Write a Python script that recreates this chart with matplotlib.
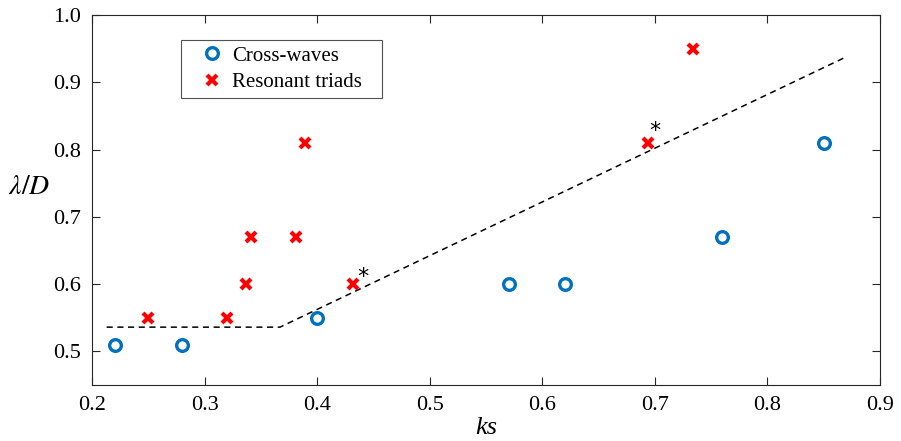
import matplotlib
matplotlib.use("Agg")
import matplotlib.pyplot as plt

plt.rcParams['font.family'] = ['Liberation Serif']
plt.rcParams['mathtext.fontset'] = 'stix'

cross_x = [0.22, 0.28, 0.40, 0.57, 0.62, 0.76, 0.85]
cross_y = [0.51, 0.51, 0.55, 0.60, 0.60, 0.67, 0.81]
triad_x = [0.25, 0.32, 0.337, 0.341, 0.381, 0.389, 0.432, 0.694, 0.734]
triad_y = [0.55, 0.55, 0.60, 0.67, 0.67, 0.81, 0.60, 0.81, 0.95]
line_x = [0.213, 0.367, 0.869]
line_y = [0.536, 0.536, 0.937]
star_x = [0.441, 0.70]
star_y = [0.61, 0.827]

fig = plt.figure(figsize=(9.01, 4.41), dpi=100)
ax = fig.add_axes([92/901, 1-385/441, (880-92)/901, (385-15)/441])

ax.plot(line_x, line_y, 'k--', lw=1.1, dashes=(4, 3))
ax.plot(cross_x, cross_y, 'o', ls='none', mfc='none', mec='#0072BD', mew=2.4, ms=8.4, label='Cross-waves')
ax.plot(triad_x, triad_y, 'x', ls='none', color='#FF0000', mew=3.0, ms=6.5, label='Resonant triads')
for sx, sy in zip(star_x, star_y):
    ax.text(sx, sy, '*', ha='center', va='center', fontsize=16, color='k', family='DejaVu Sans')

ax.set_xlim(0.2, 0.9)
ax.set_ylim(0.45, 1.0)
ax.set_xticks([0.2, 0.3, 0.4, 0.5, 0.6, 0.7, 0.8, 0.9])
ax.set_yticks([0.5, 0.6, 0.7, 0.8, 0.9, 1.0])
ax.set_xticklabels(['0.2', '0.3', '0.4', '0.5', '0.6', '0.7', '0.8', '0.9'])
ax.set_yticklabels(['0.5', '0.6', '0.7', '0.8', '0.9', '1.0'])
ax.tick_params(direction='in', length=6, width=0.8, labelsize=16, colors='#262626', labelcolor='k', top=True, right=True, pad=8)
for s in ax.spines.values():
    s.set_color('#262626')
    s.set_linewidth(0.8)

ax.set_xlabel('ks', fontsize=19, style='italic', labelpad=1)
ax.set_ylabel(r'$\lambda/D$', fontsize=20, rotation=0)
ax.yaxis.set_label_coords(-0.08, 0.5)

leg = ax.legend(loc='upper left', bbox_to_anchor=(0.113, 0.5, 0.255, 0.432), mode='expand',
                borderaxespad=0, fontsize=15, frameon=True,
                fancybox=False, edgecolor='#262626', handlelength=2.45, handletextpad=-0.3,
                borderpad=0.28, labelspacing=0.32)
leg.get_frame().set_linewidth(0.8)

fig.savefig('out.png', dpi=100)
